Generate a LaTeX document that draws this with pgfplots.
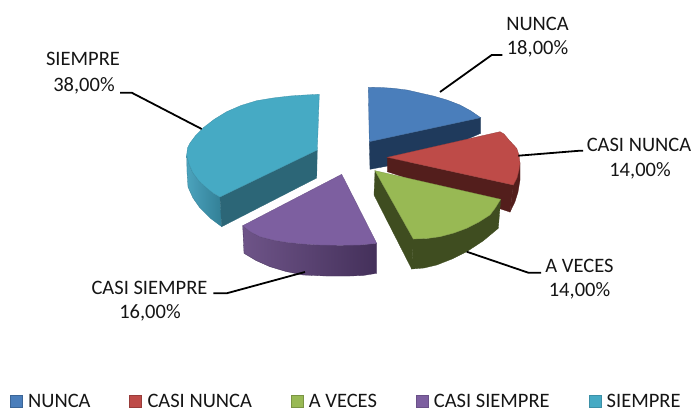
\documentclass[border=0pt]{standalone}
\usepackage{pgfplots}
\pgfplotsset{compat=1.18}
\usepackage{fontspec}
\setmainfont{Carlito}
\definecolor{cblue}{HTML}{4A7EBB}
\definecolor{cblued}{HTML}{1F3A5C}
\definecolor{cred}{HTML}{BE4B48}
\definecolor{credd}{HTML}{531E1C}
\definecolor{cgreen}{HTML}{98B954}
\definecolor{cgreend}{HTML}{3F4D20}
\definecolor{cpurple}{HTML}{7D5FA0}
\definecolor{cpurpl1}{HTML}{6E5488}
\definecolor{cpurpl2}{HTML}{44305A}
\definecolor{cteal}{HTML}{46AAC4}
\definecolor{ctealin}{HTML}{2C6677}
\definecolor{cteal1}{HTML}{4BA3BD}
\definecolor{cteal2}{HTML}{327F96}
\definecolor{ctxt}{HTML}{151515}
\begin{document}
\begin{tikzpicture}
\begin{axis}[
  scale only axis, width=697pt, height=412pt,
  xmin=0, xmax=697, ymin=0, ymax=412, y dir=reverse,
  axis lines=none, clip=false,
  legend style={at={(axis cs:10,411)}, anchor=south west, draw=none, fill=none,
    font=\fontsize{20.5}{22}\selectfont\color{ctxt}, legend columns=5,
    /tikz/every even column/.append style={column sep=36.8pt},
    inner sep=0pt, outer sep=0pt},
  legend image code/.code={\draw[#1, line width=1pt, fill opacity=1] (0pt,-6pt) rectangle (12pt,6.5pt); \path (15.5pt,0pt);},
  every axis plot/.append style={line width=0.3pt},
]
\path (axis cs:0,0) rectangle (axis cs:697,412);
% blue
\addplot[fill=cblued,draw=cblued,forget plot] coordinates {(369.3,141.7)(480.7,117.7)(480.7,133.3)(420,160)(370,169.3)} --cycle;
\addplot[fill=cblue,draw=cblue!80!black] coordinates {(369.3,141.7)(368.3,87.3)(381,87.5)(393.3,88.3)(407,90)(420,93)(433.3,96)(447,100)(460,105)(471,111)(480.7,117.7)} --cycle;
\addlegendentry{NUNCA}
% red
\addplot[fill=credd,draw=credd,forget plot] coordinates {(387.3,157.3)(513.3,185)(510,212)(387.3,171.7)} --cycle;
\addplot[fill=credd,draw=credd,forget plot] coordinates {(513.3,185)(520,163.3)(520,180)(518,192)(515,201.7)(510,212)} --cycle;
\addplot[fill=cred,draw=cred!80!black] coordinates {(387.3,157.3)(500,131.7)(504,134)(509,140)(516.7,148.3)(519,155)(520,163.3)(519,170)(517,178)(513.3,185)} --cycle;
\addlegendentry{CASI NUNCA}
% green
\addplot[fill=cgreend,draw=cgreend,forget plot] coordinates {(375,170.7)(413.3,239)(411.7,269)(374,195)} --cycle;
\addplot[fill=cgreend,draw=cgreend,forget plot] coordinates {(413.3,239)(427,238.5)(440,236.7)(454,233)(466.7,228.3)(479,222)(490,215)(496,207)(500.7,199.3)(498.3,228.3)(483,241)(466.7,251.7)(452,259)(436.7,265)(424,268)(411.7,269)} --cycle;
\addplot[fill=cgreen,draw=cgreen!80!black] coordinates {(375,170.7)(500.7,199.3)(496,207)(490,215)(479,222)(466.7,228.3)(454,233)(440,236.7)(427,238.5)(413.3,239)} --cycle;
\addlegendentry{A VECES}
% purple
\addplot[left color=cpurpl1,right color=cpurpl2,draw=cpurpl2,forget plot] coordinates {(242.7,225.7)(250,231.5)(260,236.7)(273,240)(286.7,242.3)(303,244)(320,245)(340,245.3)(360,245)(376.7,243.3)(376.7,273.3)(363,275.5)(350,276)(326,276)(303,275)(286,271.5)(270,266.7)(256,260.5)(244,253.3)} --cycle;
\addplot[fill=cpurple,draw=cpurple!85!black] coordinates {(341.7,174.3)(376.7,243.3)(360,245)(340,245.3)(320,245)(303,244)(286.7,242.3)(273,240)(260,236.7)(250,231.5)(242.7,225.7)} --cycle;
\addlegendentry{CASI SIEMPRE}
% teal
\addplot[left color=cteal1,right color=cteal2,draw=cteal2,forget plot] coordinates {(186.7,155)(189,164)(193,173)(199,181)(206.7,188)(213,193)(220,197)(221.7,226.7)(210,218)(200,208)(193,198)(188,187)(187,172)} --cycle;
\addplot[fill=ctealin,draw=ctealin,forget plot] coordinates {(220,197)(317.3,150)(316.7,178)(221.7,226.7)} --cycle;
\addplot[fill=cteal,draw=cteal!85!black] coordinates {(220,197)(213,193)(206.7,188)(199,181)(193,173)(189,164)(186.7,155)(187.5,148)(190,143)(196,135)(203,128)(214,119.5)(226.7,111.7)(241,105.5)(256.7,100.7)(273,98)(290,96)(305,95)(319.3,94.3)(317.3,150)} --cycle;
\addlegendentry{SIEMPRE}
% leader lines
\addplot[black,line width=1.8pt,forget plot] coordinates {(440,92)(491.7,55)(502.3,55)};
\addplot[black,line width=1.8pt,forget plot] coordinates {(518.3,155.7)(580,150.7)(583,150.7)};
\addplot[black,line width=1.8pt,forget plot] coordinates {(466.7,251.7)(528.3,272.7)(541,272.7)};
\addplot[black,line width=1.8pt,forget plot] coordinates {(305,272)(226.7,293.3)(213.3,293.3)};
\addplot[black,line width=1.8pt,forget plot] coordinates {(120,92.7)(131.7,92.7)(201.7,129)};
% labels
\begin{scope}[every node/.style={font=\fontsize{20.5}{22}\selectfont\color{ctxt},inner sep=0pt,anchor=base}]
\node at (axis cs:537.5,30.7) {NUNCA};
\node at (axis cs:537.5,54.3) {18,00\%};
\node at (axis cs:639,151.7) {CASI NUNCA};
\node at (axis cs:640,176) {14,00\%};
\node at (axis cs:579.5,272.7) {A VECES};
\node at (axis cs:579.5,296.7) {14,00\%};
\node at (axis cs:149.5,294) {CASI SIEMPRE};
\node at (axis cs:150,318) {16,00\%};
\node at (axis cs:83,66) {SIEMPRE};
\node at (axis cs:84,91.7) {38,00\%};
\end{scope}
\end{axis}
\end{tikzpicture}
\end{document}
